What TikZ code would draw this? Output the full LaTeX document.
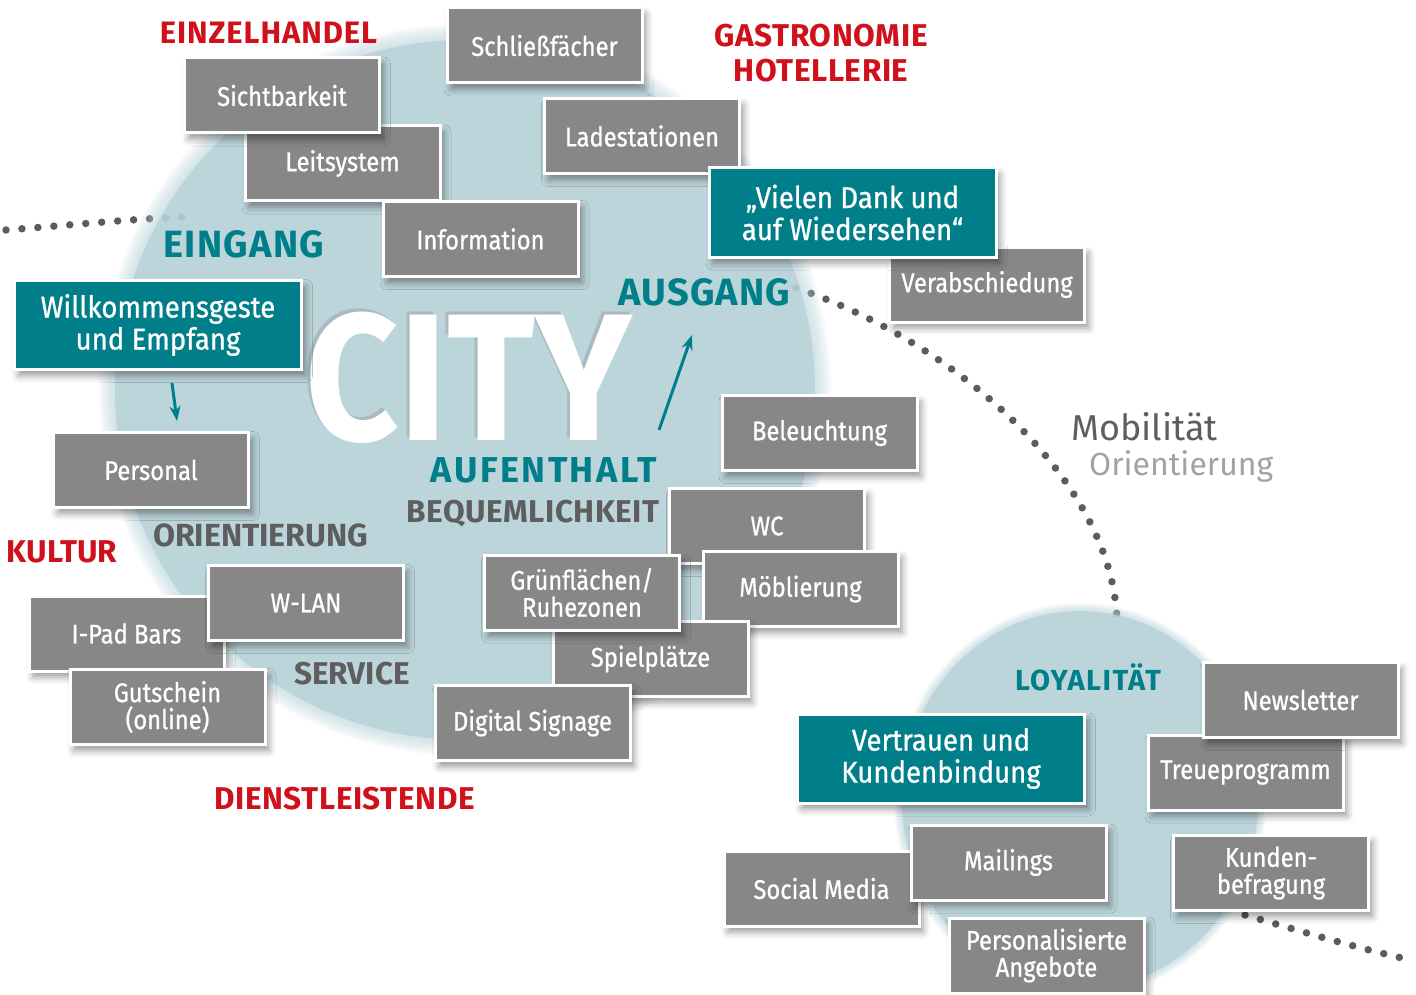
\documentclass[tikz,border=0pt]{standalone}
\usepackage{fontspec}
\setmainfont{Fira Sans}
\newfontfamily\boxfont{Fira Sans}[FakeStretch=0.88,FakeBold=0.8]
\newfontfamily\tboxfont{Fira Sans}[FakeStretch=0.92,FakeBold=0.8]
\newfontfamily\cityfont{Fira Sans}[FakeStretch=0.9]
\usetikzlibrary{shadows.blur,arrows.meta}
\definecolor{boxgray}{HTML}{878787}
\definecolor{tealc}{HTML}{007F8A}
\definecolor{redc}{HTML}{D0101B}
\definecolor{darkg}{HTML}{5E5E5E}
\definecolor{lightg}{HTML}{A2A2A2}
\definecolor{circ}{RGB}{182,209,216}
\definecolor{dotc}{HTML}{5C5C5C}
\begin{document}
\begin{tikzpicture}[x=1pt,y=-1pt,
  box/.style={draw=white, line width=3pt, fill=boxgray, text=white,
    minimum width=195pt, minimum height=75pt, inner sep=0pt, align=center,
    font=\boxfont\fontsize{27}{27}\selectfont,
    blur shadow={shadow xshift=4pt, shadow yshift=-6pt, shadow blur radius=7pt, shadow opacity=40}},
  tbox/.style={box, fill=tealc, minimum width=287pt, minimum height=89pt,
    font=\tboxfont\fontsize{30}{32}\selectfont},
  head/.style={font=\bfseries\fontsize{#1}{#1}\selectfont, inner sep=0pt, anchor=base},
  dots/.style={dotc, line width=7.5pt, line cap=round, dash pattern=on 0pt off 16pt},
  arr/.style={tealc, line width=3pt, -{Stealth[length=15pt,width=11pt]}},
]
\useasboundingbox (0,0) rectangle (1416,995);

% dotted paths (drawn first, partly covered by circles)
\coordinate (d1a) at (6,230);
\coordinate (d1b) at (185,217);
\draw[dots] (d1a) .. controls (60,226) and (130,219) .. (d1b);
\coordinate (d2a) at (796,288);
\coordinate (d2b) at (1117,620);
\draw[dots] (d2a) .. controls (955,342) and (1112,480) .. (d2b);
\coordinate (d3a) at (1245,915);
\coordinate (d3b) at (1402,958);
\draw[dots] (d3a) .. controls (1300,931) and (1350,946) .. (d3b);

% circles with soft edge
\fill[circ, opacity=0.8] (465,390) circle (350);
\foreach \k in {1,...,8} \fill[circ, opacity=0.1] (465,390) circle ({350+2*\k});
\fill[circ, opacity=0.8] (1080,800) ellipse [x radius=178, y radius=189];
\foreach \k in {1,...,8} \fill[circ, opacity=0.1] (1080,800) ellipse [x radius={178+\k}, y radius={189+\k}];

% CITY
\node[font=\cityfont\bfseries\fontsize{181}{181}\selectfont, text=black!50, opacity=0.3, inner sep=0pt] (cityshadow) at (466,375) {CITY};
\node[font=\cityfont\bfseries\fontsize{181}{181}\selectfont, text=white, inner sep=0pt] (city) at (469,378) {CITY};

% headings
\node[head=31, text=redc] (einzel) at (268.5,44) {\addfontfeature{LetterSpace=3}EINZELHANDEL};
\node[head=31.5, text=redc] (gastro) at (821,47) {\addfontfeature{LetterSpace=2}GASTRONOMIE};
\node[head=31.5, text=redc] (hotel) at (821,82) {\addfontfeature{LetterSpace=2}HOTELLERIE};
\node[head=38, text=tealc] (eingang) at (244,257) {\addfontfeature{LetterSpace=3.5}EINGANG};
\node[head=38, text=tealc] (ausgang) at (704.5,305) {\addfontfeature{LetterSpace=3}AUSGANG};
\node[head=36, text=tealc] (aufenthalt) at (544,482) {\addfontfeature{LetterSpace=7}AUFENTHALT};
\node[head=31.5, text=darkg] (bequem) at (533,522) {\addfontfeature{LetterSpace=1.6}BEQUEMLICHKEIT};
\node[head=32, text=darkg] (orient) at (260.5,546) {ORIENTIERUNG};
\node[head=31.5, text=redc] (kultur) at (62,562) {KULTUR};
\node[head=31.5, text=darkg] (service) at (352,684) {SERVICE};
\node[head=31.5, text=redc] (dienst) at (344.5,809) {\addfontfeature{LetterSpace=1.8}DIENSTLEISTENDE};
\node[head=29, text=tealc] (loyal) at (1088,690) {\addfontfeature{LetterSpace=5}LOYALITÄT};
\node[font=\fontsize{36}{36}\selectfont, text=darkg, inner sep=0pt, anchor=base west] (mobil) at (1071,440) {Mobilität};
\node[font=\fontsize{32}{32}\selectfont, text=lightg, inner sep=0pt, anchor=base west] (orient2) at (1089,475) {Orientierung};

% boxes, upper part
\node[box] (schliess) at (544.5,45.5) {Schließfächer};
\node[box] (leit) at (342.5,163.5) {Leitsystem};
\node[box] (sicht) at (282,95.5) {Sichtbarkeit};
\node[box] (info) at (480.5,239) {Information};
\node[box] (lade) at (642,136) {Ladestationen};
\node[box] (verab) at (987,284.5) {Verabschiedung};
\node[tbox] (dank) at (852.5,212.5) {„Vielen Dank und\\auf Wiedersehen“};

% left part
\node[tbox] (willk) at (158,325) {Willkommensgeste\\und Empfang};
\node[box] (personal) at (151,470) {Personal};
\node[box] (ipad) at (126.5,633.5) {I-Pad Bars};
\node[box] (wlan) at (306,603) {W-LAN};
\node[box] (gutschein) at (167.5,707) {Gutschein\\(online)};

% middle part
\node[box] (beleucht) at (819.5,433) {Beleuchtung};
\node[box] (wc) at (767,526) {WC};
\node[box] (moeb) at (800.5,589) {Möblierung};
\node[box] (spiel) at (650.5,659) {Spielplätze};
\node[box] (gruen) at (582,592.5) {Grünflächen/\\Ruhezonen};
\node[box] (digital) at (532.5,723) {Digital Signage};

% loyalty part
\node[box] (treue) at (1245.5,772.5) {Treueprogramm};
\node[box] (news) at (1300.5,700) {Newsletter};
\node[tbox] (vertrauen) at (941,758.5) {Vertrauen und\\Kundenbindung};
\node[box] (kunden) at (1271,873) {Kunden-\\befragung};
\node[box] (social) at (821.5,888.5) {Social Media};
\node[box] (mail) at (1008.5,862.5) {Mailings};
\node[box] (perso) at (1046.5,955.5) {Personalisierte\\Angebote};

% arrows
\coordinate (a1s) at (172,383);
\coordinate (a1e) at (177,421);
\draw[arr] (a1s) -- (a1e);
\coordinate (a2s) at (659,430);
\coordinate (a2e) at (692,335);
\draw[arr] (a2s) -- (a2e);
\end{tikzpicture}
\end{document}
